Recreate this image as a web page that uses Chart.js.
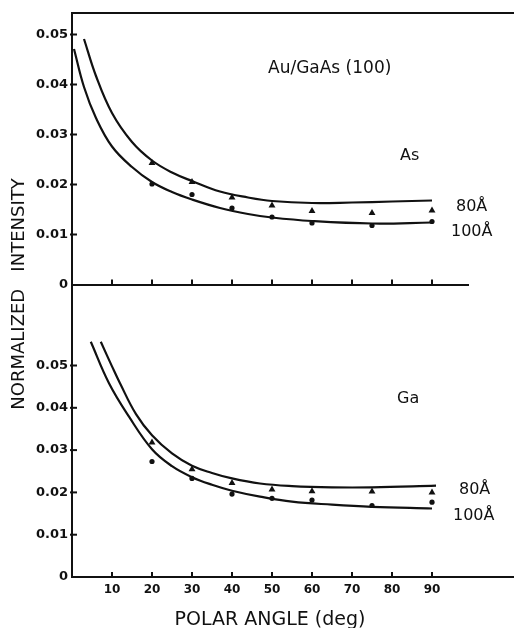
<!DOCTYPE html>
<html>
<head>
<meta charset="utf-8">
<script src="https://cdn.jsdelivr.net/npm/chart.js@4.4.0/dist/chart.umd.min.js"></script>
<style>
  html, body { margin: 0; padding: 0; background: #fff; }
  #wrap { position: relative; width: 514px; height: 628px; }
  #wrap canvas { position: absolute; left: 0; top: 0; }
</style>
</head>
<body>
<div id="wrap">
  <canvas id="gaChart" width="514" height="628"></canvas>
  <canvas id="asChart" width="514" height="628"></canvas>
</div>
<script>
// measured points (polar angle, deg)
var angles = [20, 30, 40, 50, 60, 75, 90];
var as80 = [0.0243, 0.0205, 0.0174, 0.0158, 0.0147, 0.0143, 0.0148];
var as100 = [0.0201, 0.0180, 0.0153, 0.0135, 0.0123, 0.0118, 0.0126];
var ga80 = [0.0318, 0.0255, 0.0222, 0.0207, 0.0203, 0.0202, 0.0200];
var ga100 = [0.0273, 0.0233, 0.0196, 0.0186, 0.0182, 0.0169, 0.0177];

// fitted curves
var as80CurveX = [3, 6, 10, 15, 20, 25, 30, 37, 44, 50, 60, 70, 80, 90];
var as80Curve = [0.0491, 0.0417, 0.0343, 0.0285, 0.0248, 0.0224, 0.0207, 0.0186, 0.0174, 0.0167, 0.0163, 0.0164, 0.0166, 0.0168];
var as100CurveX = [0.5, 3, 6, 10, 15, 20, 25, 30, 37, 44, 50, 60, 75, 90];
var as100Curve = [0.0471, 0.0395, 0.0333, 0.0276, 0.0235, 0.0205, 0.0185, 0.0170, 0.0153, 0.0141, 0.0134, 0.0127, 0.0122, 0.0124];
var ga80CurveX = [7.2, 10, 12, 16, 20, 25, 30, 35, 40, 47, 55, 65, 75, 91];
var ga80Curve = [0.0556, 0.0498, 0.0458, 0.0385, 0.0335, 0.0292, 0.0263, 0.0246, 0.0233, 0.0221, 0.0215, 0.0212, 0.0212, 0.0216];
var ga100CurveX = [4.7, 9.25, 14.25, 20, 25, 30, 35, 40, 47, 55, 65, 75, 90];
var ga100Curve = [0.0556, 0.0458, 0.0379, 0.0302, 0.0262, 0.0236, 0.0218, 0.0204, 0.0190, 0.0178, 0.0171, 0.0166, 0.0162];

var xTicks = [10, 20, 30, 40, 50, 60, 70, 80, 90];
var yTicks = [0, 0.01, 0.02, 0.03, 0.04, 0.05];

var ink = "#111";
var face = "DejaVu Sans";

function pairs(xs, ys) {
    return xs.map(function(x, i) { return {x: x, y: ys[i]}; });
}

function curve(xs, ys) {
    return {
        data: pairs(xs, ys),
        showLine: true,
        borderColor: ink,
        borderWidth: 2.2,
        pointRadius: 0,
        tension: 0.4
    };
}

function marks(ys, style, r) {
    return {
        data: pairs(angles, ys),
        showLine: false,
        pointStyle: style,
        pointRadius: r,
        backgroundColor: ink,
        borderColor: ink,
        borderWidth: 0
    };
}

// short ticks pointing into the plot, extra axis lines and the texts
var decor = {
    id: "decor",
    afterDraw: function(chart, args, opts) {
        var ctx = chart.ctx;
        var area = chart.chartArea;
        var xs = chart.scales.x, ys = chart.scales.y;
        ctx.save();
        ctx.strokeStyle = ink;
        ctx.lineWidth = 2;
        xTicks.forEach(function(v) {
            var px = xs.getPixelForValue(v);
            ctx.beginPath();
            ctx.moveTo(px, area.bottom);
            ctx.lineTo(px, area.bottom - 5);
            ctx.stroke();
        });
        yTicks.forEach(function(v) {
            if (v === 0) return;
            var py = ys.getPixelForValue(v);
            ctx.beginPath();
            ctx.moveTo(area.left - 2, py);
            ctx.lineTo(area.left + 5, py);
            ctx.stroke();
        });
        if (opts.topLine) {
            ctx.beginPath();
            ctx.moveTo(area.left - 1, area.top);
            ctx.lineTo(chart.width, area.top);
            ctx.stroke();
        }
        if (opts.extendBottom) {
            ctx.beginPath();
            ctx.moveTo(area.right, area.bottom);
            ctx.lineTo(chart.width, area.bottom);
            ctx.stroke();
        }
        ctx.fillStyle = ink;
        ctx.textBaseline = "alphabetic";
        (opts.texts || []).forEach(function(t) {
            ctx.font = t.size + "px '" + face + "'";
            ctx.fillText(t.text, t.x, t.y + t.size * 0.36);
        });
        if (opts.yTitle) {
            ctx.translate(19, 294);
            ctx.rotate(-Math.PI / 2);
            ctx.font = "18px '" + face + "'";
            ctx.textAlign = "center";
            ctx.textBaseline = "middle";
            ctx.fillText(opts.yTitle, 0, 0);
        }
        ctx.restore();
    }
};

function yAxis(max) {
    return {
        type: "linear",
        position: "left",
        min: 0,
        max: max,
        afterBuildTicks: function(s) { s.ticks = yTicks.map(function(v) { return {value: v}; }); },
        afterFit: function(s) { s.width = 72; },
        grid: {display: false, drawTicks: false},
        border: {color: ink, width: 2},
        ticks: {
            color: ink,
            padding: 4,
            font: {family: face, size: 13, weight: "bold"},
            callback: function(v) { return v === 0 ? "0" : v.toFixed(2); }
        }
    };
}

function xAxis(showLabels, height) {
    return {
        type: "linear",
        position: "bottom",
        min: 0,
        max: 99,
        afterBuildTicks: function(s) { s.ticks = xTicks.map(function(v) { return {value: v}; }); },
        afterFit: function(s) { s.height = height; },
        grid: {display: false, drawTicks: false},
        border: {color: ink, width: 2},
        ticks: {
            display: showLabels,
            color: ink,
            padding: 6,
            maxRotation: 0,
            autoSkip: false,
            font: {family: face, size: 12, weight: "bold"}
        },
        title: {
            display: showLabels,
            text: "POLAR ANGLE (deg)",
            color: ink,
            padding: {top: 0, bottom: 0},
            font: {family: face, size: 19, lineHeight: 0.8}
        }
    };
}

var common = {
    responsive: false,
    animation: false,
    plugins: {legend: {display: false}, tooltip: {enabled: false}}
};

new Chart(document.getElementById("asChart"), {
    type: "scatter",
    data: {
        datasets: [
            marks(as80, "triangle", 4),
            marks(as100, "circle", 2.6),
            curve(as80CurveX, as80Curve),
            curve(as100CurveX, as100Curve)
        ]
    },
    options: Object.assign({}, common, {
        layout: {padding: {top: 13, right: 46, left: 0, bottom: 333.5}},
        scales: {x: xAxis(false, 10), y: yAxis(0.0543)},
        plugins: Object.assign({}, common.plugins, {
            decor: {
                topLine: true,
                texts: [
                    {text: "Au/GaAs (100)", x: 268, y: 67, size: 17},
                    {text: "As", x: 400, y: 154, size: 16},
                    {text: "80Å", x: 456, y: 205, size: 16},
                    {text: "100Å", x: 451, y: 230, size: 16}
                ]
            }
        })
    }),
    plugins: [decor]
});

new Chart(document.getElementById("gaChart"), {
    type: "scatter",
    data: {
        datasets: [
            marks(ga80, "triangle", 4),
            marks(ga100, "circle", 2.6),
            curve(ga80CurveX, ga80Curve),
            curve(ga100CurveX, ga100Curve)
        ]
    },
    options: Object.assign({}, common, {
        layout: {padding: {top: 284.5, right: 46, left: 0, bottom: 0}},
        scales: {x: xAxis(true, 51), y: yAxis(0.06915)},
        plugins: Object.assign({}, common.plugins, {
            decor: {
                extendBottom: true,
                yTitle: "NORMALIZED   INTENSITY",
                texts: [
                    {text: "Ga", x: 397, y: 397, size: 16},
                    {text: "80Å", x: 459, y: 488, size: 16},
                    {text: "100Å", x: 453, y: 514, size: 16}
                ]
            }
        })
    }),
    plugins: [decor]
});
</script>
</body>
</html>
